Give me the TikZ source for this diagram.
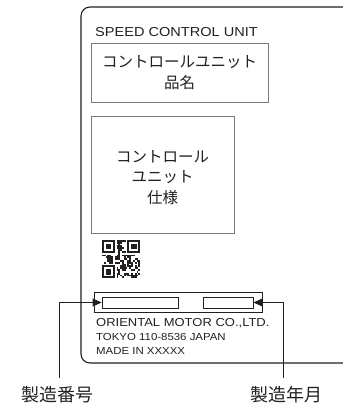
\documentclass[tikz,border=0pt]{standalone}
\usepackage{fontspec}
\setmainfont{Liberation Sans}[FakeStretch=1.12]
\newfontfamily\jp{Noto Sans CJK JP}
\usetikzlibrary{arrows.meta}
\definecolor{ink}{HTML}{231F20}
\definecolor{boxgray}{HTML}{7A7A7A}
\begin{document}
\begin{tikzpicture}[x=1pt,y=-1pt,
  graybox/.style={draw=boxgray, line width=0.9pt, inner sep=0pt},
  inkbox/.style={draw=ink, line width=0.9pt, inner sep=0pt},
  jptext/.style={font=\jp\fontsize{15.5}{20.5}\selectfont, text=ink, align=center},
  latin/.style={anchor=base west, text=ink, inner sep=0pt},
  callout/.style={draw=ink, line width=0.9pt, -{Triangle[length=9pt,width=8pt]}},
  lbl/.style={font=\jp\fontsize{18}{20}\selectfont, text=ink, inner sep=0pt}]
\useasboundingbox (0,0) rectangle (342,403);
% panel outline
\draw[ink, line width=1.1pt, rounded corners=9pt] (344,7) -- (81,7) -- (81,363) -- (344,363);
% title
\node[latin, font=\fontsize{13}{15}\selectfont] (title) at (95,36.7) {SPEED CONTROL UNIT};
% product name box
\node[graybox, jptext, minimum width=177pt, minimum height=59pt] (name) at (179.5,72.5) {コントロールユニット\\品名};
% spec box
\node[graybox, minimum width=143pt, minimum height=117pt] (spec) at (162.5,174.5) {};
\node[jptext] (spectxt) at (162.5,177.5) {コントロール\\ユニット\\仕様};
% QR code
\def\m{1.82}
\pgfmathsetseed{4711}
\foreach \i in {0,...,20}{
  \foreach \j in {0,...,20}{
    \pgfmathsetmacro{\skip}{int((\i<8 && \j<8) || (\i>12 && \j<8) || (\i<8 && \j>12))}
    \pgfmathsetmacro{\on}{int(rnd<0.56)}
    \ifnum\skip=0 \ifnum\on=1
      \fill[ink] ({102+\i*\m},{240+\j*\m}) rectangle ++(\m,\m);
    \fi\fi
  }
}
\foreach \fx/\fy in {0/0,14/0,0/14}{
  \fill[ink] ({102+\fx*\m},{240+\fy*\m}) rectangle ++({7*\m},{7*\m});
  \fill[white] ({102+(\fx+1)*\m},{240+(\fy+1)*\m}) rectangle ++({5*\m},{5*\m});
  \fill[ink] ({102+(\fx+2)*\m},{240+(\fy+2)*\m}) rectangle ++({3*\m},{3*\m});
}
% serial / date frame
\node[inkbox, minimum width=168pt, minimum height=20pt] (frame) at (178,302) {};
\node[inkbox, minimum width=76pt, minimum height=11pt] (sn) at (140,302.5) {};
\node[inkbox, minimum width=50pt, minimum height=11pt] (dt) at (228,302.5) {};
% maker text
\node[latin, font=\fontsize{11.6}{13}\selectfont] (maker) at (96,326.7) {ORIENTAL MOTOR CO.,LTD.};
\node[latin, font=\fontsize{10.2}{12}\selectfont] (addr) at (96,340) {TOKYO 110-8536 JAPAN};
\node[latin, font=\fontsize{10.2}{12}\selectfont] (made) at (96,354.3) {MADE IN XXXXX};
% labels and callouts
\node[lbl] (lbl1) at (57,395) {製造番号};
\node[lbl] (lbl2) at (286,395) {製造年月};
\coordinate (la) at (59,378);
\coordinate (ra) at (283,378);
\draw[callout] (la) |- (sn.west);
\draw[callout] (ra) |- (dt.east);
\end{tikzpicture}
\end{document}
